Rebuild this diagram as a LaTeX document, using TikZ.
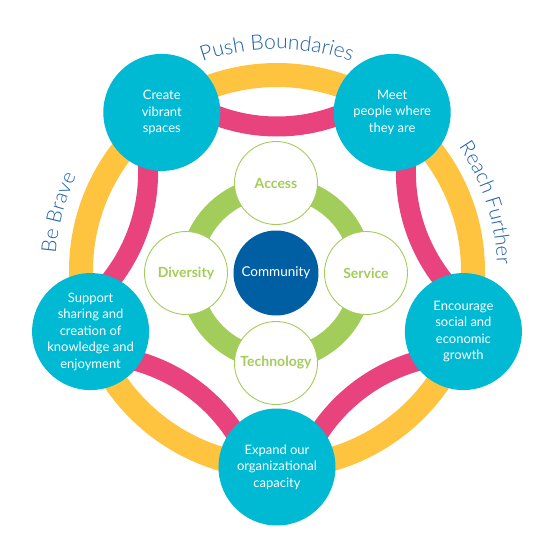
\documentclass[tikz,border=0pt]{standalone}
\usepackage{fontspec}
\setmainfont{Lato}
\newfontfamily\lightfont{Lato Light}
\usetikzlibrary{decorations.text,calc}
\definecolor{cyanc}{HTML}{00B9D3}
\definecolor{pinkc}{HTML}{E8437D}
\definecolor{yellowc}{HTML}{FEC440}
\definecolor{greenc}{HTML}{A3CD5A}
\definecolor{commc}{HTML}{005EA3}
\definecolor{tblue}{HTML}{1E60AA}
\begin{document}
\begin{tikzpicture}[x=1pt,y=1pt,
  bigc/.style={circle, fill=cyanc, minimum size=117pt, inner sep=0pt, align=center,
     text=white, font=\fontsize{13}{16.5}\selectfont},
  smallc/.style={circle, fill=white, draw=greenc, line width=0.9pt, minimum size=83pt, inner sep=0pt,
     text=greenc, font=\bfseries\fontsize{14}{15}\selectfont},
  commcircle/.style={circle, fill=commc, minimum size=85pt, inner sep=0pt, text=white,
     font=\fontsize{13.5}{15}\selectfont},
  yband/.style={draw=yellowc, line width=24pt},
  pband/.style={draw=pinkc, line width=20pt},
  gband/.style={draw=greenc, line width=22pt},
  arctext/.style={decorate, decoration={text along path, text align=center,
     text color=tblue}}
]
\useasboundingbox (-277,-279) rectangle (273,271);
% yellow ring
\draw[yband] (0,0) circle[radius=196];
% pink arcs
\foreach \m in {18,90,162,234,306}{
  \draw[pband] (\m:318) ++({\m+144}:173.5) arc[start angle={\m+144}, end angle={\m+216}, radius=173.5];
}
% green ring
\coordinate (ic) at (-1,-2);
\draw[gband] (ic) circle[radius=86];
% big circles
\node[bigc] (create) at (126:196) {Create\\vibrant\\spaces};
\node[bigc] (meet) at (54:196) {Meet\\people where\\they are};
\node[bigc] (encourage) at (-18:196) {Encourage\\social and\\economic\\growth};
\node[bigc] (expand) at (-90:196) {Expand our\\organizational\\capacity};
\node[bigc] (support) at (198:196) {Support\\sharing and\\creation of\\knowledge and\\enjoyment};
% inner circles
\node[smallc] (access) at ($(ic)+(0,90)$) {Access};
\node[smallc] (service) at ($(ic)+(90,0)$) {Service};
\node[smallc] (technology) at ($(ic)+(0,-90)$) {Technology};
\node[smallc] (diversity) at ($(ic)+(-90,0)$) {Diversity};
\node[commcircle] (community) at (ic) {Community};
% curved labels
\path[arctext, decoration={text={|\lightfont\fontsize{21}{21}\selectfont|Push Boundaries}}]
  (135:222) arc[start angle=135, end angle=45, radius=222];
\path[arctext, decoration={text={|\lightfont\fontsize{20.5}{21}\selectfont|Be Brave}}]
  (210:222) arc[start angle=210, end angle=120, radius=222];
\path[arctext, decoration={text={|\lightfont\fontsize{20.5}{21}\selectfont|Reach Further}}]
  (63:220) arc[start angle=63, end angle=-27, radius=220];
\end{tikzpicture}
\end{document}
